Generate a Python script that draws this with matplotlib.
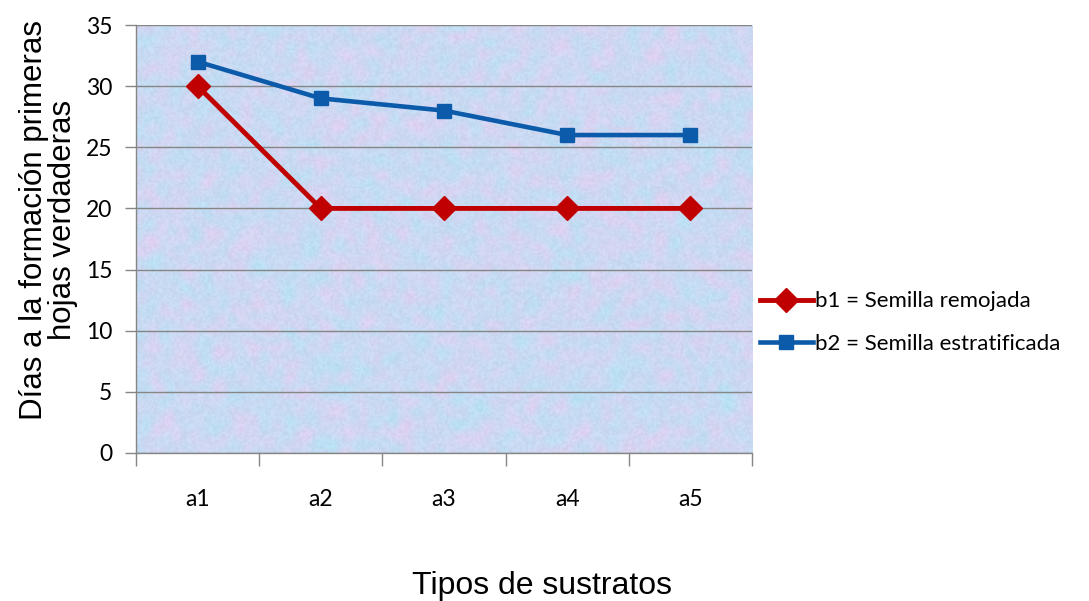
import numpy as np
import matplotlib
matplotlib.use("Agg")
import matplotlib.pyplot as plt
from matplotlib.ticker import FixedLocator

sustratos = ["a1", "a2", "a3", "a4", "a5"]
remojada = [30, 20, 20, 20, 20]
estratificada = [32, 29, 28, 26, 26]

fig = plt.figure(figsize=(10.89, 6.01), dpi=100)
ax = fig.add_axes([0.1249, 0.2463, 0.5657, 0.7121])

# soft mottled fill for the plot area
rng = np.random.default_rng(7)
h, w = 220, 320
base = np.array([0.80, 0.85, 0.95])
pink = np.array([0.87, 0.82, 0.94])
cyan = np.array([0.75, 0.87, 0.95])


def blotch(step, size):
    n = np.kron(rng.random((h // step + 4, w // step + 4)), np.ones((step, step)))
    k = np.ones(size) / size
    for _ in range(2):
        n = np.apply_along_axis(lambda r: np.convolve(r, k, mode="same"), 1, n)
        n = np.apply_along_axis(lambda r: np.convolve(r, k, mode="same"), 0, n)
    return n[2 * step:2 * step + h, 2 * step:2 * step + w] - 0.5


n1 = blotch(4, 5)
n2 = blotch(4, 5)
fine = rng.random((h, w)) * 0.05 - 0.025
tex = base + n1[..., None] * 2.2 * (pink - base) + n2[..., None] * 2.0 * (cyan - base)
tex = np.clip(tex + fine[..., None], 0, 1)
ax.imshow(tex, extent=(-0.5, 4.5, 0, 35), aspect="auto", zorder=0, interpolation="bilinear")

x = np.arange(len(sustratos))
ax.plot(x, remojada, color="#C00000", lw=3.5, marker="D", ms=12, zorder=3,
        label="b1 = Semilla remojada")
ax.plot(x, estratificada, color="#0B5BAA", lw=3.3, marker="s", ms=9.5, zorder=3,
        label="b2 = Semilla estratificada")

ax.set_xlim(-0.5, 4.5)
ax.set_ylim(0, 35)
ax.set_yticks(range(0, 36, 5))
ax.set_xticks(x)
ax.set_xticklabels(sustratos)
ax.xaxis.set_minor_locator(FixedLocator(np.arange(-0.5, 4.6, 1)))
ax.tick_params(axis="x", which="major", length=0, pad=26, labelsize=16.5)
ax.tick_params(axis="x", which="minor", length=9, width=1, color="#868686")
ax.tick_params(axis="y", length=8, width=1, color="#868686", pad=9, labelsize=16.5)
for lab in ax.get_xticklabels() + ax.get_yticklabels():
    lab.set_fontfamily("Lato")

ax.grid(axis="y", color="#868686", lw=1)
ax.set_axisbelow(False)
for g in ax.get_ygridlines():
    g.set_zorder(1)
for s in ["top", "right"]:
    ax.spines[s].set_visible(False)
for s in ["left", "bottom"]:
    ax.spines[s].set_color("#868686")
    ax.spines[s].set_linewidth(1)

ax.set_ylabel("Días a la formación primeras\nhojas verdaderas", fontsize=22.5,
              fontfamily="Liberation Sans", linespacing=0.95)
ax.yaxis.set_label_coords(-0.094, 0.545)
fig.text(0.498, 0.012, "Tipos de sustratos", fontsize=23,
         fontfamily="Liberation Sans", ha="center")

leg = ax.legend(loc="center left", bbox_to_anchor=(0.998, 0.305), frameon=False,
                prop={"family": "Lato", "size": 16}, handlelength=2.4,
                handletextpad=0.1, labelspacing=1.0, borderaxespad=0)

fig.savefig("out.png", dpi=100)
